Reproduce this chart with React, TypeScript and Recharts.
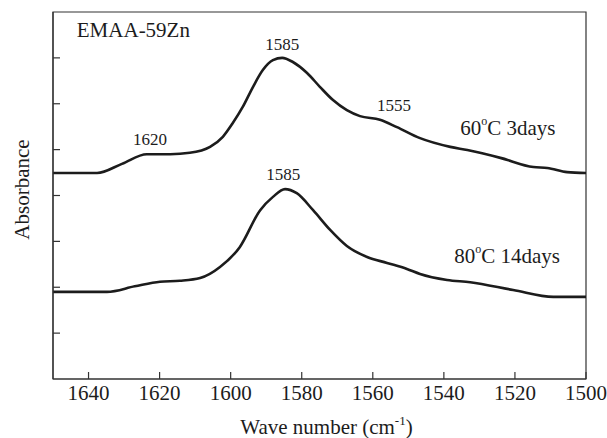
import React from 'react';
import {
  LineChart,
  Line,
  XAxis,
  YAxis,
  ReferenceArea,
  ReferenceDot,
  Label
} from 'recharts';

// wave numbers (cm-1) and absorbance
const upperWave = [1650, 1637.6, 1630.6, 1623.6, 1617, 1611.5, 1605.8, 1602.2, 1599.4, 1596.6, 1593.7, 1590.9, 1588.1, 1585.5, 1582.5, 1578.5, 1574.9, 1571.2, 1567.3, 1563.6, 1558, 1553.2, 1546.7, 1538.2, 1533.4, 1524.1, 1514.8, 1510.9, 1505.3, 1500];
const upperAbs = [4.49, 4.49, 4.69, 4.9, 4.9, 4.93, 5.06, 5.28, 5.58, 5.93, 6.37, 6.74, 6.95, 7.0, 6.91, 6.67, 6.37, 6.08, 5.86, 5.73, 5.65, 5.49, 5.25, 5.06, 4.99, 4.82, 4.62, 4.6, 4.51, 4.49];

const lowerWave = [1650, 1634.8, 1627, 1619.9, 1614.3, 1608.6, 1603, 1597.4, 1591.7, 1588.1, 1584.7, 1581.4, 1576.8, 1572, 1567.3, 1561.6, 1556, 1550.4, 1546.7, 1539.1, 1532.6, 1520.5, 1509.2, 1500];
const lowerAbs = [1.9, 1.9, 2.02, 2.12, 2.14, 2.2, 2.44, 2.88, 3.68, 3.97, 4.14, 4.05, 3.68, 3.25, 2.9, 2.66, 2.53, 2.4, 2.29, 2.16, 2.11, 1.94, 1.79, 1.79];

const xTicks = [1640, 1620, 1600, 1580, 1560, 1540, 1520, 1500];
const yTicks = [1, 2, 3, 4, 5, 6, 7];

const upperData = upperWave.map((w, i) => ({ wave: w, abs: upperAbs[i] }));
const lowerData = lowerWave.map((w, i) => ({ wave: w, abs: lowerAbs[i] }));

const FONT = 'Liberation Serif, DejaVu Serif, serif';
const INK = '#1c1c1c';
const AXIS = '#333';
const txt = { fontFamily: FONT };

const XTick = (props: any) => {
  const { x, y, payload } = props;
  return (
    <g>
      <line x1={x} y1={y} x2={x} y2={y - 7} stroke={AXIS} strokeWidth={1.2} />
      <text x={x} y={y + 21} textAnchor="middle" fontSize={21} fill={INK} style={txt}>
        {payload.value}
      </text>
    </g>
  );
};

const YTick = (props: any) => {
  const { x, y } = props;
  return <line x1={x} y1={y} x2={x + 7} y2={y} stroke={AXIS} strokeWidth={1.2} />;
};

const XTitle = (props: any) => {
  const { x, y, width } = props.viewBox;
  return (
    <text x={x + width / 2 + 7} y={y + 55} textAnchor="middle" fontSize={21} fill={INK} style={txt}>
      Wave number (cm<tspan dy={-9} fontSize={13}>-1</tspan>
      <tspan dy={9}>)</tspan>
    </text>
  );
};

const YTitle = (props: any) => {
  const { y, height } = props.viewBox;
  const cx = 29;
  const cy = y + height / 2 - 6;
  return (
    <text x={cx} y={cy} transform={`rotate(-90, ${cx}, ${cy})`} textAnchor="middle" fontSize={21} fill={INK} style={txt}>
      Absorbance
    </text>
  );
};

const note = (text: string, size: number, anchor: string) => (p: any) => (
  <text x={p.cx} y={p.cy} textAnchor={anchor} fontSize={size} fill={INK} style={txt}>
    {text}
  </text>
);

const tempNote = (temp: string, rest: string) => (p: any) => (
  <text x={p.cx} y={p.cy} fontSize={21} fill={INK} style={txt}>
    {temp}
    <tspan dy={-10} fontSize={12}>o</tspan>
    <tspan dy={10}>{rest}</tspan>
  </text>
);

export default function App() {
  return (
    <div style={{ position: 'absolute', left: 0, top: 0, background: '#fff' }}>
      <LineChart
        width={607}
        height={438}
        margin={{ top: 12, right: 21, bottom: 0, left: 0 }}
        style={{ fontFamily: FONT }}
      >
        <XAxis
          dataKey="wave"
          type="number"
          domain={[1500, 1650]}
          reversed
          ticks={xTicks}
          allowDataOverflow
          height={59}
          tickSize={0}
          tickMargin={0}
          tickLine={false}
          tick={XTick}
          stroke={AXIS}
          strokeWidth={1.2}
        >
          <Label content={XTitle} />
        </XAxis>
        <YAxis
          type="number"
          domain={[0, 8]}
          ticks={yTicks}
          allowDataOverflow
          width={53}
          tickSize={0}
          tickMargin={0}
          tickLine={false}
          tick={YTick}
          stroke={AXIS}
          strokeWidth={1.2}
        >
          <Label content={YTitle} />
        </YAxis>
        <ReferenceArea x1={1650} x2={1500} y1={0} y2={8} fill="none" stroke={AXIS} strokeWidth={1.2} />
        <Line
          data={upperData}
          dataKey="abs"
          type="monotone"
          stroke={INK}
          strokeWidth={2.6}
          dot={false}
          isAnimationActive={false}
        />
        <Line
          data={lowerData}
          dataKey="abs"
          type="monotone"
          stroke={INK}
          strokeWidth={2.6}
          dot={false}
          isAnimationActive={false}
        />
        <ReferenceDot x={1643.3} y={7.455} r={0} shape={note('EMAA-59Zn', 21, 'start')} />
        <ReferenceDot x={1622.7} y={5.1} r={0} shape={note('1620', 17, 'middle')} />
        <ReferenceDot x={1585.5} y={7.17} r={0} shape={note('1585', 17, 'middle')} />
        <ReferenceDot x={1554} y={5.84} r={0} shape={note('1555', 17, 'middle')} />
        <ReferenceDot x={1585.2} y={4.34} r={0} shape={note('1585', 17, 'middle')} />
        <ReferenceDot x={1535.4} y={5.32} r={0} shape={tempNote('60', 'C 3days')} />
        <ReferenceDot x={1537.1} y={2.53} r={0} shape={tempNote('80', 'C 14days')} />
      </LineChart>
    </div>
  );
}
